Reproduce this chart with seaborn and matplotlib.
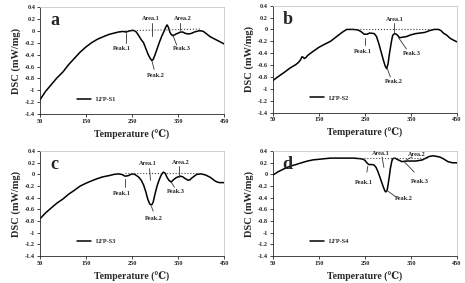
import numpy as np
import pandas as pd
import seaborn as sns
import matplotlib.pyplot as plt

sns.set_style('ticks')
plt.rcParams['font.family'] = ['Liberation Serif', 'DejaVu Serif']
plt.rcParams['font.weight'] = 'bold'

# DSC curves (temperature in C, DSC in mW/mg)
temp_a = [50, 62, 75, 87, 100, 112, 125, 137, 150, 162, 175, 187, 200, 210, 220, 230, 237, 245, 252, 258, 262, 266,
          270, 275, 280, 285, 290, 293, 296, 300, 305, 310, 315, 320, 323, 326, 329, 332, 335, 338, 342, 346, 350,
          355, 360, 365, 370, 375, 380, 385, 390, 395, 400, 405, 410, 415, 420, 425, 430, 435, 440, 445, 450]
dsc_a = [-1.16, -1.02, -0.9, -0.79, -0.69, -0.57, -0.46, -0.36, -0.27, -0.2, -0.14, -0.1, -0.06, -0.04, -0.02,
         -0.01, -0.02, 0.0, 0.01, -0.01, -0.05, -0.1, -0.15, -0.2, -0.3, -0.4, -0.47, -0.5, -0.48, -0.4, -0.29,
         -0.18, -0.08, 0.0, 0.06, 0.1, 0.06, -0.02, -0.06, -0.08, -0.07, -0.05, -0.04, -0.02, -0.02, -0.04, -0.05,
         -0.05, -0.04, -0.02, -0.01, 0.0, 0.0, -0.01, -0.04, -0.07, -0.1, -0.12, -0.14, -0.16, -0.18, -0.2, -0.22]

temp_b = [50, 62, 75, 87, 100, 106, 110, 113, 116, 118, 122, 125, 137, 150, 162, 175, 180, 190, 200, 210, 225, 235,
          242, 248, 255, 260, 270, 275, 280, 285, 290, 294, 297, 300, 303, 307, 310, 314, 318, 322, 325, 332, 340,
          350, 360, 370, 380, 390, 400, 410, 415, 420, 428, 435, 442, 450]
dsc_b = [-0.86, -0.79, -0.72, -0.65, -0.59, -0.55, -0.51, -0.46, -0.47, -0.49, -0.47, -0.44, -0.37, -0.3, -0.25,
         -0.2, -0.17, -0.11, -0.05, 0.0, 0.0, -0.01, -0.04, -0.08, -0.08, -0.06, -0.07, -0.12, -0.24, -0.38, -0.52,
         -0.62, -0.66, -0.58, -0.41, -0.22, -0.1, -0.07, -0.08, -0.11, -0.14, -0.13, -0.12, -0.09, -0.07, -0.06,
         -0.05, -0.02, 0.0, 0.0, -0.02, -0.06, -0.1, -0.15, -0.18, -0.21]

temp_c = [50, 62, 75, 87, 100, 112, 125, 137, 150, 162, 175, 187, 200, 210, 220, 228, 235, 242, 250, 256, 260, 265,
          270, 275, 280, 284, 288, 290, 293, 296, 300, 305, 310, 314, 318, 322, 326, 330, 335, 340, 345, 350, 355,
          360, 365, 372, 376, 380, 385, 390, 400, 410, 415, 420, 425, 430, 435, 440, 445, 450]
dsc_c = [-0.76, -0.66, -0.57, -0.49, -0.42, -0.34, -0.27, -0.2, -0.15, -0.11, -0.07, -0.04, -0.02, 0.0, 0.01, 0.0,
         -0.03, -0.02, 0.01, 0.0, -0.02, -0.05, -0.1, -0.18, -0.3, -0.42, -0.5, -0.52, -0.52, -0.47, -0.33, -0.18,
         -0.07, 0.0, 0.04, 0.02, -0.05, -0.1, -0.13, -0.09, -0.06, -0.04, -0.03, -0.04, -0.07, -0.1, -0.09, -0.06,
         -0.03, 0.0, 0.01, -0.01, -0.03, -0.05, -0.08, -0.11, -0.13, -0.14, -0.14, -0.14]

temp_d = [50, 62, 75, 87, 100, 112, 125, 137, 150, 162, 175, 200, 225, 240, 246, 250, 254, 258, 265, 270, 274, 278,
          282, 286, 290, 293, 295, 298, 300, 303, 305, 308, 310, 315, 322, 330, 340, 350, 360, 368, 375, 382, 390,
          398, 405, 412, 420, 430, 440, 450]
dsc_d = [-0.01, 0.05, 0.1, 0.14, 0.17, 0.2, 0.23, 0.25, 0.26, 0.27, 0.28, 0.28, 0.28, 0.27, 0.26, 0.24, 0.2, 0.17,
         0.17, 0.16, 0.12, 0.05, -0.04, -0.13, -0.22, -0.28, -0.3, -0.27, -0.18, -0.02, 0.1, 0.22, 0.27, 0.28,
         0.25, 0.22, 0.23, 0.23, 0.23, 0.24, 0.25, 0.28, 0.31, 0.32, 0.31, 0.3, 0.27, 0.22, 0.2, 0.2]

samples = ['LFP-S1', 'LFP-S2', 'LFP-S3', 'LFP-S4']
letters = ['a', 'b', 'c', 'd']

# dotted baselines: (start temp, end temp, start dsc, end dsc)
base_a = [235, 400, 0.0, 0.03]
base_b = [220, 395, 0.0, 0.0]
base_c = [235, 400, 0.03, 0.03]
base_d = [235, 385, 0.28, 0.28]

# annotations: label, text x, text y, line x0, y0, x1, y1
notes_a = [('Area.1', 290, 0.2, 293, 0.14, 293, -0.08), ('Area.2', 360, 0.2, 355, 0.14, 355, 0.02),
           ('Peak.1', 228, -0.3, 237, -0.03, 237, -0.2), ('Peak.2', 302, -0.75, 293, -0.5, 298, -0.65),
           ('Peak.3', 358, -0.3, 338, -0.06, 347, -0.24)]
notes_b = [('Area.1', 315, 0.17, 312, 0.1, 312, -0.07), ('Peak.1', 245, -0.37, 250, -0.15, 250, -0.26),
           ('Peak.2', 312, -0.88, 298, -0.65, 305, -0.8), ('Peak.3', 352, -0.4, 322, -0.13, 340, -0.33)]
notes_c = [('Area.1', 285, 0.18, 288, 0.1, 290, -0.1), ('Area.2', 355, 0.2, 353, 0.14, 353, -0.04),
           ('Peak.1', 228, -0.33, 235, -0.08, 235, -0.22), ('Peak.2', 298, -0.75, 292, -0.55, 296, -0.63),
           ('Peak.3', 345, -0.3, 335, -0.13, 342, -0.22)]
notes_d = [('Area.1', 285, 0.36, 287, 0.3, 291, 0.12), ('Area.2', 362, 0.35, 352, 0.3, 340, 0.25),
           ('Peak.1', 248, -0.13, 256, 0.14, 254, 0.04), ('Peak.2', 335, -0.42, 297, -0.27, 318, -0.39),
           ('Peak.3', 370, -0.12, 335, 0.22, 357, 0.04)]

curves = [(temp_a, dsc_a), (temp_b, dsc_b), (temp_c, dsc_c), (temp_d, dsc_d)]
bases = [base_a, base_b, base_c, base_d]
notes = [notes_a, notes_b, notes_c, notes_d]
boxes = [[0.086, 0.597, 0.396, 0.378], [0.587, 0.602, 0.396, 0.378],
         [0.086, 0.095, 0.396, 0.371], [0.587, 0.095, 0.396, 0.371]]

fig = plt.figure(figsize=(4.65, 2.83), dpi=100)

for i in range(4):
    ax = fig.add_axes(boxes[i])
    df = pd.DataFrame({'T': curves[i][0], 'DSC': curves[i][1]})
    sns.lineplot(data=df, x='T', y='DSC', ax=ax, color='black', lw=1.1, label=samples[i])
    b = bases[i]
    ax.plot([b[0], b[1]], [b[2], b[3]], ls=':', color='#444444', lw=0.8)
    for lab, tx, ty, x0, y0, x1, y1 in notes[i]:
        ax.plot([x0, x1], [y0, y1], color='#333333', lw=0.6)
        ax.text(tx, ty, lab, fontsize=4.5, fontweight='bold', ha='center', va='center')
    ax.text(0.08, 0.87, letters[i], transform=ax.transAxes, fontsize=13, fontweight='bold',
            ha='center', va='center')
    ax.set_xlim(50, 450)
    ax.set_ylim(-1.4, 0.4)
    ax.set_xticks([50, 150, 250, 350, 450])
    yt = np.round(np.arange(-1.4, 0.41, 0.2), 1)
    ax.set_yticks(yt)
    ax.set_yticklabels(['0' if v == 0 else f'{v:g}' for v in yt])
    ax.tick_params(labelsize=4.5, length=2, width=0.6, pad=1.5)
    for lbl in ax.get_xticklabels() + ax.get_yticklabels():
        lbl.set_fontweight('bold')
    ax.set_xlabel('Temperature (℃)', fontsize=7, fontweight='bold', labelpad=4)
    ax.set_ylabel('DSC (mW/mg)', fontsize=7.5, fontweight='bold', labelpad=3)
    ax.spines['left'].set_linewidth(0.6)
    ax.spines['bottom'].set_linewidth(0.6)
    ax.spines['top'].set_color('#c8c8c8')
    ax.spines['right'].set_color('#c8c8c8')
    ax.spines['top'].set_linewidth(0.6)
    ax.spines['right'].set_linewidth(0.6)
    ax.legend(loc='lower left', bbox_to_anchor=(0.17, 0.06), frameon=False, fontsize=4.5,
              handlelength=2.2, prop={'weight': 'bold', 'size': 4.5})

fig.savefig('out.png', dpi=100)
